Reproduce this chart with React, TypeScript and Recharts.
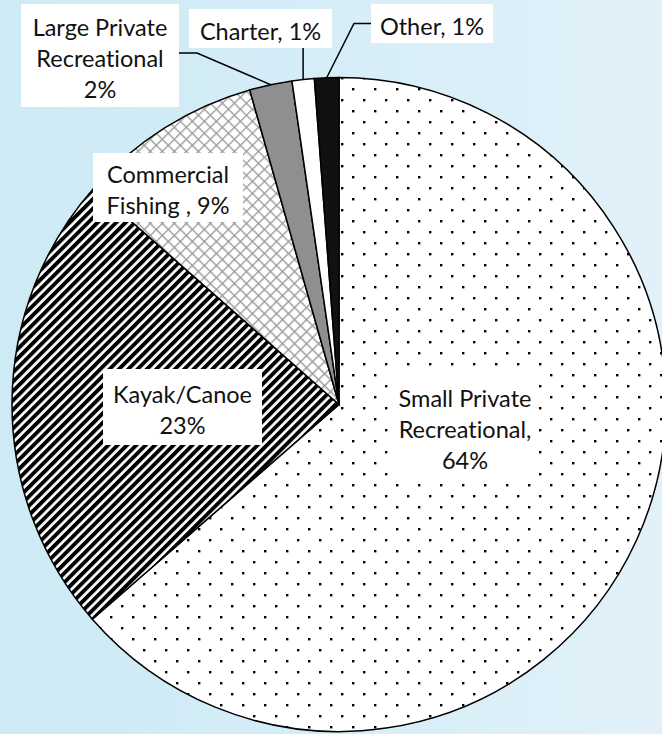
import { PieChart, Pie, Cell } from "recharts";

const categories = [
  "Small Private Recreational",
  "Kayak/Canoe",
  "Commercial Fishing",
  "Large Private Recreational",
  "Charter",
  "Other",
];
const shares = [63.6, 22.9, 9.1, 2.1, 1.1, 1.2];
const labelLines = [
  ["Small Private", "Recreational,", "64%"],
  ["Kayak/Canoe", "23%"],
  ["Commercial", "Fishing , 9%"],
  ["Large Private", "Recreational", "2%"],
  ["Charter, 1%"],
  ["Other, 1%"],
];

const fills = [
  "url(#dots)",
  "url(#stripes)",
  "url(#lattice)",
  "#8f8f8f",
  "#ffffff",
  "#111111",
];

// label box centre as offset from the pie centre, plus box size and leader style
const boxes = [
  { dx: 126, dy: 22.5, w: 146, h: 106, leader: "none" },
  { dx: -156.5, dy: 2.5, w: 159, h: 76, leader: "none" },
  { dx: -171, dy: -217, w: 150, h: 69, leader: "none" },
  { dx: -239, dy: -349, w: 158, h: 103, leader: "left" },
  { dx: -78.5, dy: -376, w: 143, h: 39, leader: "down" },
  { dx: 93, dy: -381, w: 122, h: 39, leader: "right" },
];

const rows = categories.map((name, i) => ({ name, value: shares[i] }));

const RAD = Math.PI / 180;
const LINE_H = 31;

function renderLabel(props: any) {
  const { cx, cy, midAngle, outerRadius, index } = props;
  const b = boxes[index];
  const bx = cx + b.dx;
  const by = cy + b.dy;
  const left = bx - b.w / 2;
  const top = by - b.h / 2;
  const ex = cx + outerRadius * Math.cos(-midAngle * RAD);
  const ey = cy + outerRadius * Math.sin(-midAngle * RAD);

  let leader: string | null = null;
  if (b.leader === "left") {
    const ly = by - 2.5;
    leader = `M${ex},${ey} L${left + b.w + 18},${ly} L${left + b.w},${ly}`;
  } else if (b.leader === "down") {
    leader = `M${ex},${ey} L${ex},${top + b.h}`;
  } else if (b.leader === "right") {
    leader = `M${ex},${ey} L${left - 17},${by} L${left},${by}`;
  }

  const lines = labelLines[index];
  const firstY = by - ((lines.length - 1) * LINE_H) / 2 + 2;

  return (
    <g key={`lbl-${index}`}>
      {leader && <path d={leader} stroke="#000" strokeWidth={1.5} fill="none" />}
      <rect x={left} y={top} width={b.w} height={b.h} fill="#fff" />
      <text
        x={bx}
        textAnchor="middle"
        fontFamily="Lato, 'Open Sans', sans-serif"
        fontSize={23.5}
        fill="#111"
        style={{ fontVariantLigatures: "none" }}
      >
        {lines.map((t, k) => (
          <tspan key={k} x={bx} y={firstY + k * LINE_H} dominantBaseline="central">
            {t}
          </tspan>
        ))}
      </text>
    </g>
  );
}

export default function App() {
  return (
    <div
      style={{
        position: "fixed",
        left: 0,
        top: 0,
        width: 662,
        height: 734,
        overflow: "hidden",
        background: "linear-gradient(to right, #cdeaf5 0%, #d8eef8 60%, #e2f1f9 100%)",
      }}
    >
      <svg width={0} height={0} style={{ position: "absolute" }}>
        <defs>
          <pattern id="dots" width="22" height="22" patternUnits="userSpaceOnUse">
            <rect width="22" height="22" fill="#fff" />
            <rect x="0" y="0" width="2.4" height="2.4" fill="#000" />
            <rect x="11" y="11" width="2.4" height="2.4" fill="#000" />
          </pattern>
          <pattern
            id="stripes"
            width="6.6"
            height="6.6"
            patternUnits="userSpaceOnUse"
            patternTransform="rotate(45)"
          >
            <rect width="6.6" height="6.6" fill="#fff" />
            <rect width="3.9" height="6.6" fill="#000" />
          </pattern>
          <pattern
            id="lattice"
            width="8.5"
            height="8.5"
            patternUnits="userSpaceOnUse"
            patternTransform="rotate(45)"
          >
            <rect width="8.5" height="8.5" fill="#fff" />
            <rect width="1.4" height="8.5" fill="#9c9c9c" />
            <rect width="8.5" height="1.4" fill="#9c9c9c" />
          </pattern>
        </defs>
      </svg>
      <PieChart width={662} height={734} margin={{ top: 0, right: 0, bottom: 0, left: 0 }}>
        <Pie
          data={rows}
          dataKey="value"
          nameKey="name"
          cx={339}
          cy={404.5}
          outerRadius={327}
          startAngle={90}
          endAngle={-270}
          stroke="#000"
          strokeWidth={1.5}
          labelLine={false}
          label={renderLabel}
          isAnimationActive={false}
        >
          {rows.map((r, i) => (
            <Cell key={r.name} fill={fills[i]} />
          ))}
        </Pie>
      </PieChart>
    </div>
  );
}
